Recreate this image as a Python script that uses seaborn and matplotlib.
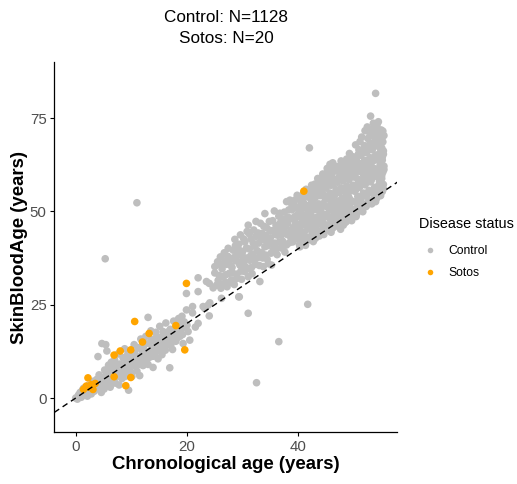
import matplotlib
matplotlib.use("Agg")
import matplotlib.pyplot as plt
import pandas as pd
import seaborn as sns
from matplotlib.lines import Line2D

# ---------------- text ----------------
title_lines = ["Control: N=1128", "Sotos: N=20"]
x_label = "Chronological age (years)"
y_label = "SkinBloodAge (years)"
legend_title = "Disease status"
groups = ["Control", "Sotos"]
group_colors = ["#BEBEBE", "#FFA500"]
x_ticks = [0, 20, 40]
y_ticks = [0, 25, 50, 75]

# ---------------- data (age, predicted SkinBloodAge) ----------------
control_young = [
    (0.0, 0.0), (0.3, -0.3), (0.5, 0.8), (0.8, 1.5), (0.8, 0.8), (1.0, 0.2), (1.2, 2.1), (1.5, 1.0),
    (1.7, 2.8), (2.0, 1.5), (2.1, 0.5), (2.3, 3.4), (2.6, 2.0), (2.8, 1.1), (3.0, 3.0), (3.2, 4.5),
    (3.3, 1.8), (3.6, 2.6), (3.8, 5.0), (4.0, 2.5), (4.2, 6.2), (4.4, 3.8), (4.6, 1.5), (4.7, 14.6),
    (4.0, 11.1), (5.0, 5.5), (5.2, 7.5), (5.3, 3.2), (5.4, 14.3), (5.6, 12.6), (5.7, 4.8), (5.9, 8.8),
    (6.1, 6.3), (6.2, 2.9), (6.4, 9.6), (6.6, 5.1), (6.8, 7.2), (7.0, 10.2), (7.1, 4.0), (7.3, 8.3),
    (7.5, 6.0), (7.6, 11.8), (7.8, 3.5), (8.0, 9.1), (8.2, 7.0), (8.3, 5.2), (8.5, 10.8), (8.7, 8.0),
    (8.8, 13.2), (9.0, 6.4), (9.2, 9.7), (9.3, 11.5), (9.5, 2.1), (9.6, 7.6), (9.8, 12.4), (10.0, 8.9),
    (10.1, 5.8), (10.3, 10.6), (10.5, 14.3), (10.6, 12.0), (10.8, 9.5), (11.0, 7.2), (11.2, 13.5),
    (11.4, 10.4), (11.5, 6.0), (11.7, 15.8), (11.9, 11.6), (12.1, 8.7), (12.2, 13.9), (12.4, 10.2),
    (12.6, 16.5), (12.8, 12.3), (13.0, 9.0), (13.0, 21.6), (13.2, 14.6), (13.4, 11.0), (13.5, 18.0),
    (13.7, 13.0), (13.9, 8.2), (14.1, 15.4), (14.3, 12.1), (14.4, 17.6), (14.6, 14.0), (14.8, 10.5),
    (15.0, 16.2), (15.1, 19.2), (15.3, 13.4), (15.5, 11.6), (15.7, 17.8), (15.9, 15.0), (16.1, 12.8),
    (16.2, 20.1), (16.4, 16.6), (16.6, 14.2), (16.9, 8.1), (17.0, 18.4), (17.2, 15.8), (17.4, 13.0),
    (17.6, 20.6), (17.8, 17.0), (18.0, 15.2), (18.2, 19.3), (18.5, 21.3), (18.7, 16.5), (19.0, 18.6),
    (19.3, 14.6), (19.5, 20.4), (19.9, 23.6), (19.9, 28.0), (20.5, 15.5), (20.2, 17.8), (5.3, 37.3),
    (11.0, 52.3),
    (0.6, 0.1), (1.1, 1.2), (1.4, 2.6), (1.9, 0.9), (2.4, 1.5), (2.7, 3.0), (3.1, 2.2), (3.4, 3.6),
    (3.9, 3.2), (4.3, 5.0), (4.8, 4.2), (5.1, 2.4), (5.5, 6.4), (5.8, 3.9), (6.3, 7.6), (6.7, 4.4),
    (6.9, 8.9), (7.2, 5.6), (7.7, 9.0), (7.9, 6.7), (8.4, 8.6), (8.9, 5.8), (9.1, 10.4), (9.4, 8.4),
    (9.9, 6.9), (10.2, 11.6), (10.7, 8.5), (11.1, 11.0), (11.6, 9.0), (11.8, 13.0), (12.3, 11.0),
    (12.5, 14.6), (12.9, 10.6), (13.3, 12.6), (13.6, 15.7), (14.0, 11.2), (14.2, 13.5), (14.5, 16.3),
    (14.9, 12.9), (15.2, 15.0), (15.6, 14.2), (15.8, 16.8), (16.3, 15.3), (16.7, 17.8), (17.1, 14.3),
    (17.5, 16.6), (17.9, 18.6), (18.3, 16.2), (18.6, 18.0), (18.9, 20.5), (19.2, 17.0), (19.6, 19.0),
    (19.1, 21.9), (20.0, 19.5),
]

control_mid = [
    (21.0, 22.8), (21.0, 24.5), (21.5, 19.0), (22.0, 20.0), (22.0, 28.5), (22.0, 32.2), (22.9, 24.5),
    (23.2, 24.0), (23.8, 24.9), (24.0, 22.0), (24.1, 25.5), (24.7, 29.5), (23.5, 31.2), (25.0, 35.2),
    (25.0, 33.5), (24.0, 30.7), (26.2, 26.7), (26.5, 32.5), (25.3, 30.2), (25.5, 36.5), (25.8, 32.8),
    (26.0, 37.8), (26.1, 29.4), (26.3, 34.6), (26.7, 38.9), (26.9, 31.0), (27.1, 35.8), (27.2, 29.8),
    (27.4, 40.1), (27.6, 33.4), (27.8, 37.2), (28.0, 31.6), (28.1, 35.0), (28.3, 39.6), (28.5, 30.4),
    (28.6, 42.5), (28.8, 36.8), (29.0, 33.2), (29.1, 38.4), (29.3, 41.2), (29.4, 27.1), (29.5, 35.6),
    (29.6, 43.7), (29.8, 31.8), (30.0, 39.2), (30.1, 36.3), (30.3, 33.9), (30.4, 41.8), (30.6, 37.5),
    (30.8, 44.6), (30.9, 34.6), (31.0, 46.3), (31.0, 22.7), (31.2, 39.9), (31.3, 36.9), (31.5, 42.6),
    (31.7, 33.3), (31.8, 38.5), (32.0, 45.0), (32.1, 40.7), (32.3, 35.8), (32.4, 43.3), (32.5, 4.1),
    (32.7, 37.6), (32.9, 41.5), (33.1, 31.2), (33.2, 46.8), (33.4, 39.0), (33.5, 44.1), (33.7, 35.2),
    (33.9, 42.3), (34.0, 49.4), (34.1, 38.3), (34.3, 45.6), (34.5, 40.8), (34.6, 36.0), (34.8, 47.3),
    (35.0, 42.9), (35.2, 35.6), (35.3, 44.8), (35.5, 39.6), (35.7, 50.1), (35.8, 41.5), (36.0, 46.2),
    (36.2, 38.4), (36.5, 15.1), (36.3, 43.6), (36.5, 48.7), (36.7, 49.5), (36.9, 40.2), (37.1, 45.4),
    (37.2, 42.0), (37.4, 47.9), (37.6, 39.1), (37.8, 44.3), (37.9, 52.6), (37.9, 41.0), (38.1, 46.8),
    (38.3, 50.4), (38.5, 53.0), (38.6, 43.2), (38.8, 48.1), (39.0, 41.8), (39.1, 45.7), (39.3, 51.5),
    (39.5, 47.0), (39.7, 42.8), (39.8, 54.3), (40.0, 44.5), (40.1, 49.6), (40.3, 40.5), (40.3, 42.3),
    (40.5, 52.0), (29.3, 27.1),
    (25.6, 31.5), (26.0, 35.7), (26.4, 30.4), (26.8, 36.7), (27.0, 33.0), (27.3, 38.0), (27.7, 31.0),
    (27.9, 35.5), (28.2, 33.5), (28.4, 37.6), (28.7, 40.8), (28.9, 32.0), (29.2, 36.5), (29.5, 39.5),
    (29.7, 34.0), (30.0, 37.8), (30.2, 42.6), (30.5, 35.2), (30.7, 40.2), (31.0, 32.5), (31.2, 44.0),
    (31.4, 38.0), (31.6, 35.0), (31.9, 41.5), (32.2, 37.2), (32.4, 47.3), (32.6, 39.5), (32.8, 44.2),
    (33.0, 35.5), (33.3, 42.8), (33.6, 37.5), (33.8, 46.0), (34.0, 40.5), (34.2, 43.5), (34.4, 37.2),
    (34.7, 42.0), (34.9, 44.9), (35.1, 38.8), (35.4, 47.5), (35.6, 41.0), (35.9, 43.8), (36.1, 40.0),
    (36.4, 45.3), (36.6, 41.8), (36.8, 47.0), (37.0, 43.7), (37.3, 40.5), (37.5, 49.8), (37.7, 46.0),
    (38.0, 43.8), (38.2, 48.4), (38.4, 41.6), (38.7, 45.0), (38.9, 50.4), (39.2, 43.5), (39.4, 48.6),
    (39.6, 44.6), (39.9, 50.8), (39.4, 53.0), (38.8, 52.0),
]

control_old = [
    (40.2, 41.1), (40.6, 42.9), (40.9, 44.2), (40.3, 45.8), (40.7, 47.1), (40.1, 48.6), (40.5, 50.3),
    (40.8, 51.2), (40.4, 53.1), (40.9, 54.6), (40.0, 46.0),
    (41.3, 40.9), (41.7, 43.0), (41.1, 44.5), (41.5, 46.2), (41.9, 47.4), (41.2, 49.0), (41.6, 50.6),
    (41.0, 52.2), (41.8, 53.8), (41.0, 53.8), (41.4, 55.9), (41.7, 25.1),
    (42.2, 42.5), (42.7, 41.9), (42.5, 44.1), (42.9, 45.6), (42.1, 46.9), (42.6, 48.3), (42.3, 49.8),
    (42.8, 51.3), (42.4, 52.7), (42.0, 54.2), (42.7, 55.5), (42.4, 57.0), (42.0, 67.0),
    (43.1, 42.8), (43.5, 44.6), (43.8, 43.4), (43.2, 46.0), (43.6, 47.5), (43.9, 49.1), (43.3, 50.4),
    (43.7, 52.0), (43.0, 53.5), (43.4, 55.0), (43.8, 56.4), (43.0, 57.3), (43.5, 58.8),
    (44.2, 44.9), (44.6, 43.8), (44.9, 46.4), (44.3, 47.8), (44.7, 49.2), (44.1, 50.7), (44.5, 52.1),
    (44.8, 53.6), (44.2, 55.0), (44.6, 56.5), (44.0, 58.0), (44.4, 60.0), (44.9, 59.1),
    (45.1, 45.0), (45.5, 46.2), (45.8, 47.7), (45.2, 49.0), (45.6, 50.5), (45.9, 52.0), (45.3, 53.3),
    (45.7, 54.9), (45.0, 56.2), (45.4, 57.7), (45.8, 59.0), (45.3, 60.8), (45.7, 62.6), (45.9, 44.4),
    (46.2, 45.5), (46.6, 47.1), (46.9, 48.6), (46.3, 50.0), (46.7, 51.4), (46.1, 52.9), (46.5, 54.3),
    (46.8, 55.8), (46.2, 57.2), (46.6, 58.6), (46.0, 60.0), (46.4, 61.5), (46.9, 62.0),
    (47.1, 46.0), (47.5, 47.6), (47.8, 49.3), (47.2, 50.7), (47.6, 52.0), (47.9, 53.5), (47.3, 55.0),
    (47.7, 56.3), (47.0, 57.8), (47.4, 59.3), (47.8, 60.6), (47.2, 62.0), (47.6, 45.2),
    (48.1, 46.3), (48.5, 48.0), (48.8, 49.5), (48.2, 51.0), (48.6, 52.4), (48.9, 53.9), (48.3, 55.3),
    (48.7, 56.8), (48.0, 58.2), (48.4, 59.6), (48.8, 61.0), (48.1, 62.9), (48.6, 47.2),
    (49.2, 48.3), (49.6, 49.7), (49.9, 49.0), (49.3, 51.2), (49.7, 52.7), (49.0, 54.1), (49.4, 55.6),
    (49.8, 57.0), (49.1, 58.5), (49.5, 59.9), (49.9, 61.3), (49.3, 62.8), (49.9, 64.6), (49.6, 47.5),
    (50.2, 49.8), (50.6, 51.0), (50.9, 50.3), (50.3, 52.5), (50.7, 54.0), (50.1, 55.4), (50.5, 56.9),
    (50.8, 58.3), (50.2, 59.8), (50.6, 61.2), (50.0, 62.6), (50.4, 64.0), (50.8, 65.3), (50.4, 48.6),
    (51.2, 50.5), (51.6, 52.0), (51.9, 51.4), (51.3, 53.5), (51.7, 54.9), (51.0, 56.4), (51.4, 57.8),
    (51.8, 59.2), (51.1, 60.7), (51.5, 62.1), (51.9, 63.5), (51.3, 65.0), (51.7, 66.4), (51.1, 68.7),
    (51.6, 49.9),
    (52.2, 51.3), (52.6, 52.7), (52.9, 52.2), (52.3, 54.2), (52.7, 55.6), (52.0, 57.1), (52.4, 58.5),
    (52.8, 60.0), (52.1, 61.4), (52.5, 62.8), (52.9, 64.3), (52.3, 65.7), (52.7, 67.2), (52.0, 71.6),
    (52.9, 68.2), (52.5, 69.5),
    (53.2, 52.0), (53.6, 53.4), (53.9, 52.6), (53.3, 55.0), (53.7, 56.4), (53.0, 57.9), (53.4, 59.3),
    (53.8, 60.7), (53.1, 62.2), (53.5, 63.6), (53.9, 65.0), (53.3, 66.5), (53.7, 67.9), (53.5, 73.6),
    (53.9, 81.6), (53.2, 70.4), (53.8, 71.2),
    (54.1, 53.5), (54.5, 55.0), (54.8, 54.2), (54.2, 56.6), (54.6, 58.0), (54.9, 59.5), (54.3, 60.9),
    (54.7, 62.3), (54.0, 63.8), (54.4, 65.2), (54.8, 66.6), (54.2, 68.1), (54.6, 69.5), (54.4, 70.0),
    (54.4, 74.0), (54.9, 71.8), (54.1, 72.6),
    (55.1, 55.3), (55.3, 57.2), (55.0, 58.8), (55.2, 60.5), (55.4, 62.1), (55.1, 63.7), (55.3, 65.3),
    (55.0, 67.0), (55.2, 68.6), (55.4, 70.3), (55.1, 57.0),
    (40.5, 43.6), (40.8, 46.5), (40.2, 49.4), (40.6, 52.0),
    (41.5, 42.0), (41.8, 45.3), (41.3, 48.2), (41.7, 51.5), (41.2, 54.6),
    (42.4, 43.3), (42.8, 46.6), (42.2, 49.0), (42.6, 52.0), (42.9, 53.9), (42.2, 56.0),
    (43.4, 43.7), (43.8, 46.8), (43.2, 48.3), (43.6, 51.2), (43.9, 54.2), (43.3, 56.1), (43.7, 57.8),
    (44.5, 45.6), (44.9, 48.5), (44.2, 51.4), (44.6, 54.3), (44.9, 57.2), (44.3, 59.0),
    (45.4, 45.6), (45.8, 48.4), (45.2, 51.2), (45.6, 54.1), (45.9, 57.0), (45.4, 59.8), (45.2, 61.5),
    (46.5, 46.3), (46.9, 49.3), (46.3, 52.2), (46.7, 55.0), (46.4, 57.9), (46.8, 60.8), (46.2, 63.0),
    (47.4, 46.8), (47.8, 50.0), (47.2, 52.8), (47.6, 55.7), (47.9, 58.5), (47.3, 61.3), (47.7, 63.5),
    (48.4, 47.0), (48.8, 50.3), (48.2, 53.1), (48.6, 56.0), (48.9, 58.9), (48.3, 61.8), (48.7, 64.0),
    (49.4, 48.9), (49.8, 50.5), (49.2, 53.4), (49.6, 56.3), (49.9, 59.2), (49.3, 61.9), (49.7, 63.7),
    (49.2, 65.5),
    (50.5, 49.3), (50.9, 52.8), (50.3, 55.7), (50.7, 58.6), (50.1, 61.5), (50.5, 63.3), (50.9, 66.5),
    (50.3, 67.8),
    (51.5, 51.2), (51.9, 54.2), (51.3, 57.1), (51.7, 60.0), (51.1, 62.8), (51.5, 65.7), (51.9, 67.6),
    (51.4, 69.9),
    (52.5, 52.0), (52.9, 55.0), (52.3, 57.8), (52.7, 60.7), (52.1, 63.6), (52.5, 66.4), (52.9, 70.5),
    (52.4, 72.6),
    (53.4, 53.0), (53.8, 55.7), (53.2, 58.6), (53.6, 61.5), (53.0, 64.3), (53.4, 67.2), (53.8, 69.3),
    (53.1, 72.0), (53.0, 75.5),
    (54.4, 54.3), (54.8, 57.3), (54.2, 59.3), (54.6, 61.6), (54.0, 65.0), (54.4, 67.4), (54.8, 70.8),
    (54.2, 73.4),
    (55.3, 56.0), (55.0, 59.6), (55.4, 61.2), (55.1, 64.5), (55.3, 66.2), (55.0, 69.4), (55.2, 71.5),
]

sotos = [
    (19.9, 30.7), (10.6, 20.5), (18.0, 19.4), (13.2, 17.3), (12.0, 15.0), (9.9, 12.9), (8.0, 12.6),
    (6.9, 11.5), (19.6, 12.9), (6.9, 5.7), (9.9, 5.5), (9.0, 3.3), (2.2, 5.4), (1.9, 3.2), (2.4, 2.9),
    (3.1, 2.3), (3.5, 3.9), (1.4, 2.3), (41.0, 55.4), (2.8, 3.6),
]

# ---------------- build table ----------------
control = control_young + control_mid + control_old
df = pd.DataFrame(
    [(a, p, groups[0]) for a, p in control] + [(a, p, groups[1]) for a, p in sotos],
    columns=["age", "pred", "status"],
)

plt.rcParams["font.family"] = ["Liberation Sans", "DejaVu Sans"]

W, H = 517, 484
fig = plt.figure(figsize=(W / 100, H / 100), dpi=100)
ax_left, ax_right, ax_top, ax_bottom = 54.3, 397.3, 62.0, 432.0
ax = fig.add_axes([ax_left / W, 1 - ax_bottom / H, (ax_right - ax_left) / W, (ax_bottom - ax_top) / H])

palette = dict(zip(groups, group_colors))
sns.scatterplot(data=df, x="age", y="pred", hue="status", hue_order=groups, palette=palette,
                s=30, linewidth=0, alpha=1, legend=False, ax=ax, zorder=2)
ax.axline((0, 0), slope=1, color="black", linestyle=(0, (4.2, 3.0)), linewidth=1.0, zorder=3)

ax.set_xlim(-3.85, 57.8)
ax.set_ylim(-9.1, 90.0)
ax.set_xticks(x_ticks)
ax.set_yticks(y_ticks)
for s in ["top", "right"]:
    ax.spines[s].set_visible(False)
for s in ["left", "bottom"]:
    ax.spines[s].set_linewidth(0.9)
    ax.spines[s].set_color("black")
ax.tick_params(axis="both", length=3.0, width=0.8, color="black", labelsize=10.8,
               labelcolor="#4D4D4D", pad=2.5)

ax.set_xlabel(x_label, fontsize=13.4, fontweight="bold", color="black")
ax.set_ylabel(y_label, fontsize=13.4, fontweight="bold", color="black")
ax.xaxis.set_label_coords(0.5, -0.064)
ax.yaxis.set_label_coords(-0.076, 0.5)

fig.text(226 / W, 1 - 9.5 / H, "\n".join(title_lines), ha="center", va="top",
         fontsize=12.3, linespacing=1.58)

handles = [Line2D([], [], marker="o", linestyle="", markersize=4.0, markeredgewidth=0,
                  color=c) for c in group_colors]
leg = ax.legend(handles, groups, title=legend_title, loc="upper left",
                bbox_to_anchor=(419 / W, 1 - 217 / H), bbox_transform=fig.transFigure,
                frameon=False, fontsize=8.7, title_fontsize=10.4, alignment="left",
                borderpad=0, borderaxespad=0, handlelength=1.77, handletextpad=0.65,
                labelspacing=0.85)
leg._legend_box.sep = 10

fig.savefig("out.png", dpi=100)
